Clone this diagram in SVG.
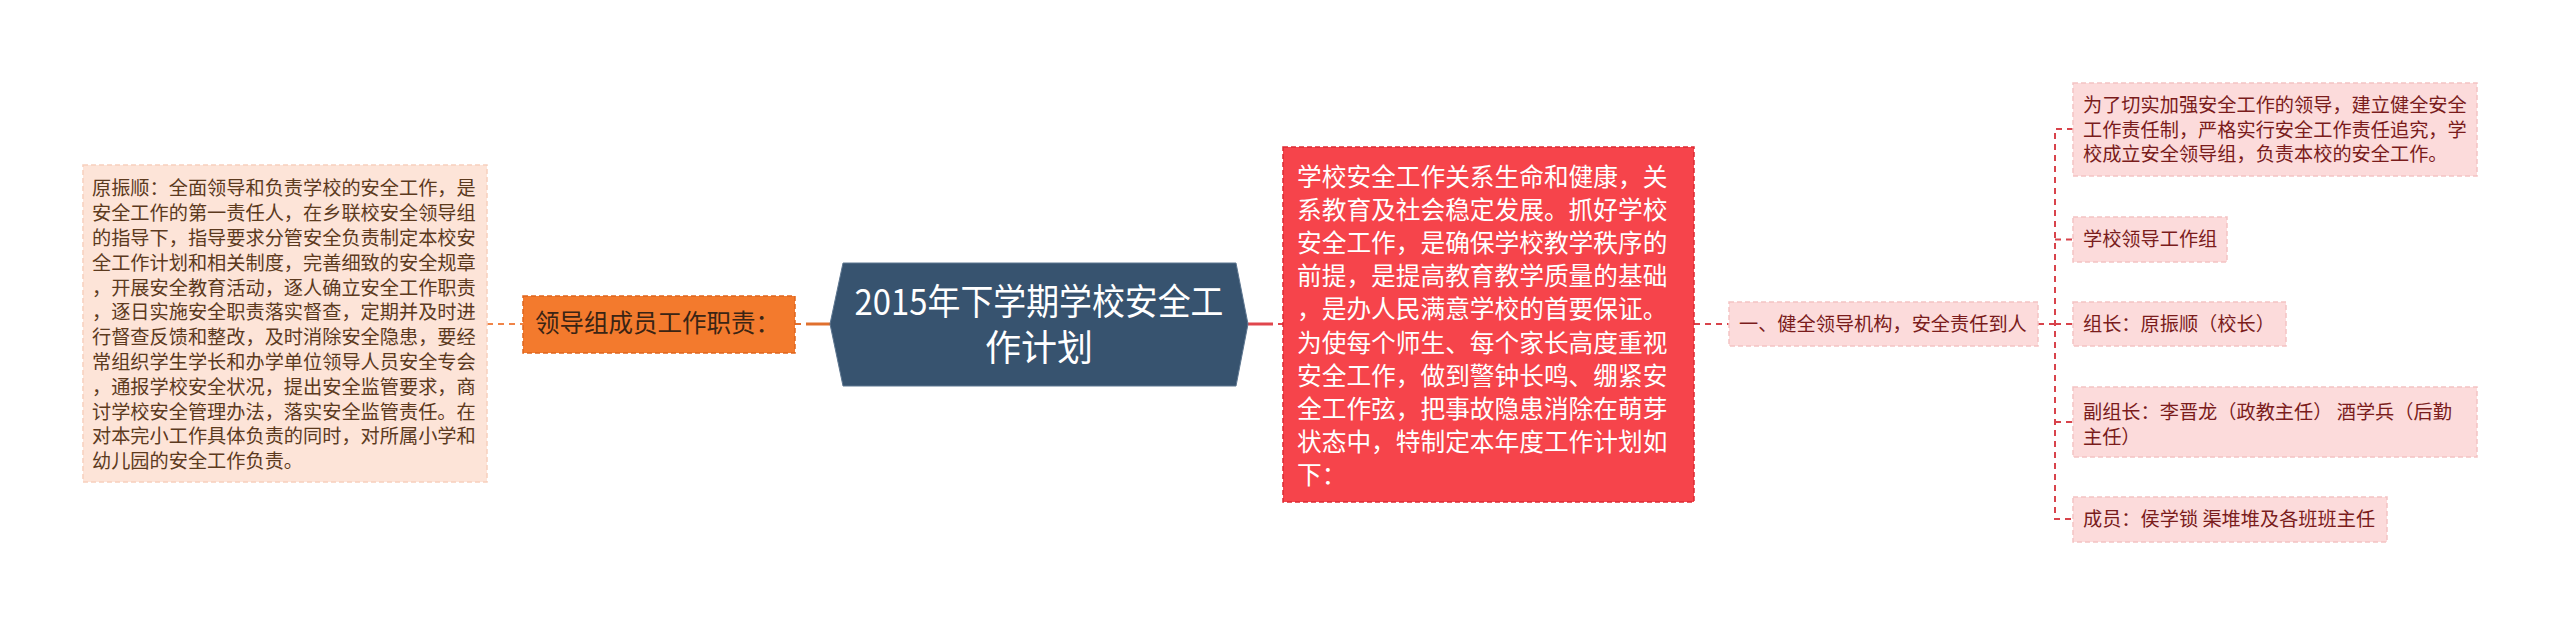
<svg xmlns="http://www.w3.org/2000/svg" width="2560" height="624" viewBox="0 0 2560 624">
<style>
text{font-family:"Noto Sans CJK SC","Noto Sans",sans-serif}
.peach{fill:#fde4d8;stroke:#f7d0bd;stroke-width:1.5;stroke-dasharray:5 3}
.pink{fill:#fcdbdb;stroke:#f4c3c3;stroke-width:1.5;stroke-dasharray:5 3}
.orange{fill:#f37a2d;stroke:#e0651d;stroke-width:1.5;stroke-dasharray:5 3}
.red{fill:#f6444b;stroke:#dd2a33;stroke-width:1.5;stroke-dasharray:5 3}
.tl{font-size:19.2px;fill:#5c3a1e}
.tp{font-size:19.2px;fill:#7a1c1c}
.tr{font-size:24.7px;fill:#ffffff}
.to{font-size:24.5px;fill:#3a2414}
.tc{font-size:36px;fill:#ffffff;text-anchor:middle}
.dl{fill:none;stroke-width:2;stroke-dasharray:6 5}
</style>
<g id="connectors">
<line class="dl" x1="487" y1="324" x2="523" y2="324" stroke="#f08448"/>
<line class="dl" x1="795" y1="324" x2="806" y2="324" stroke="#e0702e" stroke-width="3"/>
<line x1="806" y1="324" x2="831" y2="324" stroke="#e0702e" stroke-width="3"/>
<line x1="1248" y1="324" x2="1273" y2="324" stroke="#e0464d" stroke-width="3"/>
<line class="dl" x1="1278" y1="324" x2="1283" y2="324" stroke="#e0464d" stroke-width="3"/>
<line class="dl" x1="1694" y1="324" x2="1729" y2="324" stroke="#d8434b"/>
<line class="dl" x1="2038" y1="324" x2="2055" y2="324" stroke="#d8434b"/>
<path class="dl" d="M2073 129H2055V519H2073" stroke="#d8434b"/>
<line class="dl" x1="2055" y1="239.5" x2="2073" y2="239.5" stroke="#d8434b"/>
<line class="dl" x1="2055" y1="324" x2="2073" y2="324" stroke="#d8434b"/>
<line class="dl" x1="2055" y1="422" x2="2073" y2="422" stroke="#d8434b"/>
</g>
<g id="node-left">
<rect class="peach" x="83" y="165" width="404" height="317"/>
<text class="tl" x="92" y="195.4">原振顺：全面领导和负责学校的安全工作，是</text>
<text class="tl" x="92" y="220.2">安全工作的第一责任人，在乡联校安全领导组</text>
<text class="tl" x="92" y="245">的指导下，指导要求分管安全负责制定本校安</text>
<text class="tl" x="92" y="269.8">全工作计划和相关制度，完善细致的安全规章</text>
<text class="tl" x="92" y="294.6">，开展安全教育活动，逐人确立安全工作职责</text>
<text class="tl" x="92" y="319.4">，逐日实施安全职责落实督查，定期并及时进</text>
<text class="tl" x="92" y="344.2">行督查反馈和整改，及时消除安全隐患，要经</text>
<text class="tl" x="92" y="369">常组织学生学长和办学单位领导人员安全专会</text>
<text class="tl" x="92" y="393.8">，通报学校安全状况，提出安全监管要求，商</text>
<text class="tl" x="92" y="418.6">讨学校安全管理办法，落实安全监管责任。在</text>
<text class="tl" x="92" y="443.4">对本完小工作具体负责的同时，对所属小学和</text>
<text class="tl" x="92" y="468.2">幼儿园的安全工作负责。</text>
</g>
<g id="node-orange">
<rect class="orange" x="523" y="296" width="272" height="57"/>
<text class="to" x="535" y="332">领导组成员工作职责：</text>
</g>
<g id="node-central">
<polygon points="843,263 1236,263 1248,324 1236,386 843,386 830,324" fill="#37536f" stroke="#5d7690" stroke-width="1"/>
<text class="tc"><tspan x="1039" y="315" textLength="369" lengthAdjust="spacingAndGlyphs">2015年下学期学校安全工</tspan><tspan x="1039" y="361">作计划</tspan></text>
</g>
<g id="node-red">
<rect class="red" x="1283" y="147" width="411" height="355"/>
<text class="tr" x="1297" y="185.8">学校安全工作关系生命和健康，关</text>
<text class="tr" x="1297" y="218.9">系教育及社会稳定发展。抓好学校</text>
<text class="tr" x="1297" y="252.1">安全工作，是确保学校教学秩序的</text>
<text class="tr" x="1297" y="285.2">前提，是提高教育教学质量的基础</text>
<text class="tr" x="1297" y="318.4">，是办人民满意学校的首要保证。</text>
<text class="tr" x="1297" y="351.5">为使每个师生、每个家长高度重视</text>
<text class="tr" x="1297" y="384.7">安全工作，做到警钟长鸣、绷紧安</text>
<text class="tr" x="1297" y="417.8">全工作弦，把事故隐患消除在萌芽</text>
<text class="tr" x="1297" y="451">状态中，特制定本年度工作计划如</text>
<text class="tr" x="1297" y="484.1">下：</text>
</g>
<g id="node-section1">
<rect class="pink" x="1729" y="302" width="309" height="44"/>
<text class="tp" x="1739" y="331">一、健全领导机构，安全责任到人</text>
</g>
<g id="node-c1">
<rect class="pink" x="2073" y="83" width="404" height="93"/>
<text class="tp" x="2083" y="112.1">为了切实加强安全工作的领导，建立健全安全</text>
<text class="tp" x="2083" y="136.7">工作责任制，严格实行安全工作责任追究，学</text>
<text class="tp" x="2083" y="161.3">校成立安全领导组，负责本校的安全工作。</text>
</g>
<g id="node-c2">
<rect class="pink" x="2073" y="217" width="154" height="45"/>
<text class="tp" x="2083" y="246.1">学校领导工作组</text>
</g>
<g id="node-c3">
<rect class="pink" x="2073" y="302" width="213" height="44"/>
<text class="tp" x="2083" y="331.1">组长：原振顺（校长）</text>
</g>
<g id="node-c4">
<rect class="pink" x="2073" y="387" width="404" height="70"/>
<text class="tp" x="2083" y="419.1">副组长：李晋龙（政教主任） 酒学兵（后勤</text>
<text class="tp" x="2083" y="443.7">主任）</text>
</g>
<g id="node-c5">
<rect class="pink" x="2073" y="497" width="314" height="45"/>
<text class="tp" x="2083" y="526.1">成员：侯学锁 渠堆堆及各班班主任</text>
</g>
</svg>
